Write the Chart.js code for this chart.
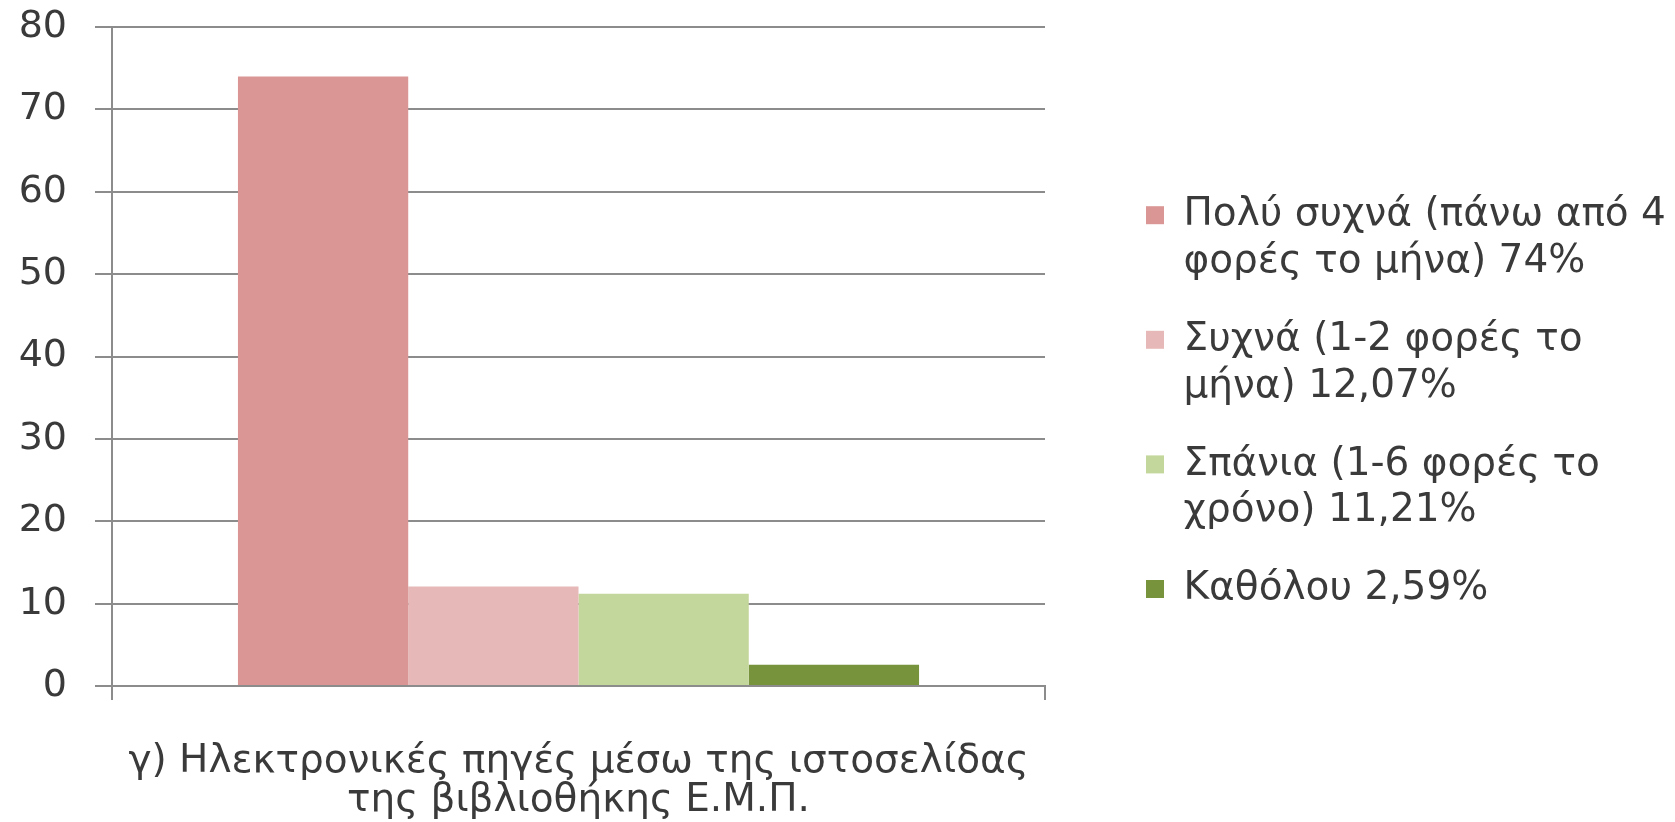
<!DOCTYPE html>
<html>
<head>
<meta charset="utf-8">
<script src="https://cdn.jsdelivr.net/npm/chart.js@4/dist/chart.umd.min.js"></script>
<style>
    html, body { margin: 0; padding: 0; background: #fff; }
    #wrap { width: 1675px; height: 822px; }
</style>
</head>
<body>
<div id="wrap"><canvas id="chart"></canvas></div>
<script>
const categories = [['γ) Ηλεκτρονικές πηγές μέσω της ιστοσελίδας', 'της βιβλιοθήκης Ε.Μ.Π.']];
const seriesNames = [
    ['Πολύ συχνά (πάνω από 4', 'φορές το μήνα) 74%'],
    ['Συχνά (1-2 φορές το', 'μήνα) 12,07%'],
    ['Σπάνια (1-6 φορές το', 'χρόνο) 11,21%'],
    ['Καθόλου 2,59%']
];
const seriesValues = [74, 12.07, 11.21, 2.59];
const seriesColors = ['#d99694', '#e6b9b8', '#c3d69b', '#77933c'];
const yMin = 0, yMax = 80, yStep = 10;

(() => {
    const ctx = document.getElementById('chart').getContext('2d');
    const gridGray = '#8c8c8c';
    const textColor = '#3a3a3a';
    const fontFamily = '"DejaVu Sans", sans-serif';

    const datasets = seriesNames.map((name, i) => ({
        label: name.join(' '),
        data: [seriesValues[i]],
        backgroundColor: seriesColors[i],
        borderWidth: 0,
        barPercentage: 1,
        categoryPercentage: 0.73
    }));

    new Chart(ctx, {
        type: 'bar',
        data: { labels: categories, datasets },
        options: {
            responsive: true,
            maintainAspectRatio: false,
            animation: false,
            layout: { padding: { top: -10, right: 0, bottom: 0, left: 0 } },
            plugins: {
                tooltip: { enabled: false },
                legend: {
                    position: 'right',
                    maxWidth: 560,
                    labels: {
                        boxWidth: 18,
                        boxHeight: 18,
                        padding: 31,
                        color: textColor,
                        font: { family: fontFamily, size: 39, lineHeight: 1.2 },
                        generateLabels: chart => seriesNames.map((name, i) => ({
                            text: name,
                            fillStyle: seriesColors[i],
                            strokeStyle: seriesColors[i],
                            fontColor: textColor,
                            lineWidth: 0,
                            datasetIndex: i
                        }))
                    }
                }
            },
            scales: {
                x: {
                    afterFit: scale => { scale.height = 136; },
                    grid: {
                        offset: true,
                        drawOnChartArea: false,
                        drawTicks: true,
                        tickLength: 14,
                        color: gridGray,
                        lineWidth: 2
                    },
                    border: { display: true, color: gridGray, width: 2 },
                    ticks: {
                        color: textColor,
                        padding: 42,
                        maxRotation: 0,
                        font: { family: fontFamily, size: 39, lineHeight: 1.0 }
                    }
                },
                y: {
                    min: yMin,
                    max: yMax,
                    afterFit: scale => {
                        scale.width = 112;
                        scale.paddingTop = 27;
                        scale.paddingBottom = 0;
                    },
                    grid: {
                        color: gridGray,
                        lineWidth: 2,
                        tickLength: 17
                    },
                    border: { display: true, color: gridGray, width: 2 },
                    ticks: {
                        stepSize: yStep,
                        color: textColor,
                        padding: 28,
                        font: { family: fontFamily, size: 38 }
                    }
                },
                gap: {
                    position: 'right',
                    display: true,
                    afterFit: scale => {
                        scale.width = 70;
                        scale.paddingTop = 0;
                        scale.paddingBottom = 0;
                    },
                    grid: { display: false },
                    border: { display: false },
                    ticks: { display: false }
                }
            }
        }
    });
})();
</script>
</body>
</html>
